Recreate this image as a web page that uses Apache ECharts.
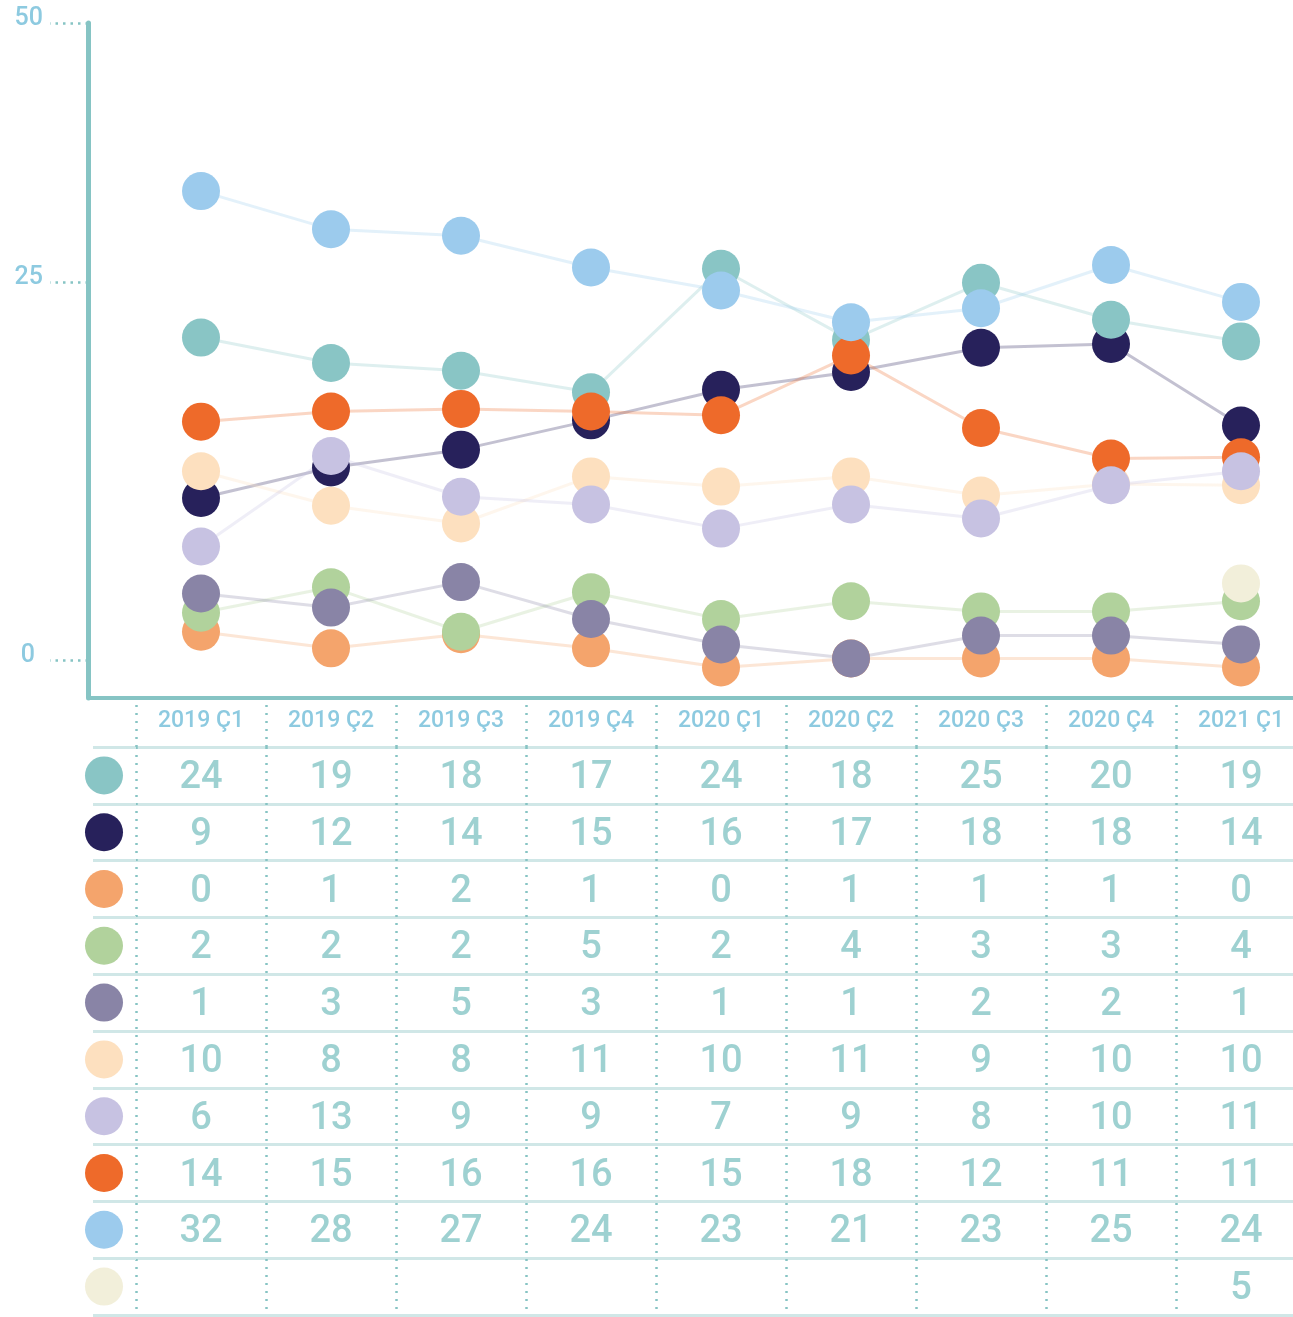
<!DOCTYPE html>
<html><head><meta charset="utf-8">
<script src="https://cdn.jsdelivr.net/npm/echarts@6/dist/echarts.min.js"></script>
<style>html,body{margin:0;padding:0;background:#fff}#c{width:1293px;height:1317px}</style>
</head><body><div id="c"></div>
<script>
// ---- data ----
const categories = ['2019 Ç1','2019 Ç2','2019 Ç3','2019 Ç4','2020 Ç1','2020 Ç2','2020 Ç3','2020 Ç4','2021 Ç1'];

// table values (as printed)
const tableTeal      = [24,19,18,17,24,18,25,20,19];
const tableNavy      = [9,12,14,15,16,17,18,18,14];
const tableSalmon    = [0,1,2,1,0,1,1,1,0];
const tableGreen     = [2,2,2,5,2,4,3,3,4];
const tablePurple    = [1,3,5,3,1,1,2,2,1];
const tablePeach     = [10,8,8,11,10,11,9,10,10];
const tableLavender  = [6,13,9,9,7,9,8,10,11];
const tableOrangeRed = [14,15,16,16,15,18,12,11,11];
const tableLightBlue = [32,28,27,24,23,21,23,25,24];
const tableCream     = [null,null,null,null,null,null,null,null,5];

// plotted values (read from the point positions)
const plotTeal      = [25.3,23.3,22.7,21.0,30.7,25.1,29.6,26.7,25.0];
const plotNavy      = [12.7,15.1,16.5,18.8,21.2,22.6,24.5,24.8,18.4];
const plotSalmon    = [2.2,0.9,2.0,0.9,-0.6,0.1,0.1,0.1,-0.6];
const plotGreen     = [3.7,5.7,2.2,5.3,3.2,4.6,3.8,3.8,4.6];
const plotPurple    = [5.2,4.1,6.1,3.2,1.2,0.1,1.9,1.9,1.2];
const plotPeach     = [14.8,12.1,10.7,14.4,13.6,14.4,12.9,13.8,13.7];
const plotLavender  = [8.9,16.0,12.8,12.2,10.3,12.2,11.1,13.7,14.8];
const plotOrangeRed = [18.7,19.5,19.7,19.5,19.2,23.9,18.2,15.8,15.9];
const plotLightBlue = [36.8,33.8,33.3,30.8,29.0,26.5,27.6,31.0,28.1];
const plotCream     = [null,null,null,null,null,null,null,null,6.0];

// y axis tick labels and where they sit on the axis
const yTickLabels = ['0','25','50'];
const yTickValues = [0, 29.66, 50];

// ---- styles ----
const colors = {
  teal:'#89c5c5', navy:'#27215b', salmon:'#f4a46c', green:'#b1d29c', purple:'#8984a6',
  peach:'#fde0bf', lavender:'#c7c2e2', orangeRed:'#ee6a2a', lightBlue:'#9ccbed', cream:'#f2efda'
};
const rows = [
  {key:'teal', table:tableTeal, plot:plotTeal},
  {key:'navy', table:tableNavy, plot:plotNavy},
  {key:'salmon', table:tableSalmon, plot:plotSalmon},
  {key:'green', table:tableGreen, plot:plotGreen},
  {key:'purple', table:tablePurple, plot:plotPurple},
  {key:'peach', table:tablePeach, plot:plotPeach},
  {key:'lavender', table:tableLavender, plot:plotLavender},
  {key:'orangeRed', table:tableOrangeRed, plot:plotOrangeRed},
  {key:'lightBlue', table:tableLightBlue, plot:plotLightBlue},
  {key:'cream', table:tableCream, plot:plotCream}
];
const drawOrder = ['salmon','green','purple','navy','teal','peach','orangeRed','lavender','lightBlue','cream'];

const AX = '#86c4c4', LBL = '#8dcae0', TXT = '#86c5c5', SEP = '#d0e7e7';
const FONT = 'Roboto';

const byKey = {}; rows.forEach(r => byKey[r.key] = r);
const series = [];
drawOrder.forEach(k => {
  const r = byKey[k];
  if (r.plot.filter(v => v !== null).length > 1) {
    series.push({
      type:'line', xAxisIndex:0, yAxisIndex:0, z:2, silent:true,
      data: r.plot.map(v => v === null ? '-' : v),
      symbol:'none', showSymbol:false,
      lineStyle:{color:colors[k], width:3, opacity:0.28}
    });
  }
});
drawOrder.forEach(k => {
  const r = byKey[k];
  series.push({
    type:'scatter', xAxisIndex:0, yAxisIndex:0, z:3, silent:true,
    data: r.plot.map(v => v === null ? '-' : v),
    symbolSize:38, itemStyle:{color:colors[k], opacity:1}
  });
});
const tableData = [];
rows.forEach((r, ri) => r.table.forEach((v, ci) => { if (v !== null) tableData.push([ci, ri, v]); }));
series.push({
  type:'scatter', xAxisIndex:1, yAxisIndex:2, silent:true, z:4,
  data: tableData, symbolSize:1, itemStyle:{color:'rgba(0,0,0,0)'},
  label:{show:true, position:'inside', offset:[0,3], formatter:p => String(p.value[2]), color:TXT, fontSize:38, fontWeight:500, fontFamily:FONT}
});

const rich = {};
rows.forEach((r, i) => { rich['d' + i] = {width:38, height:38, borderRadius:19, backgroundColor:colors[r.key]}; });

const dotted = {color:AX, width:2.5, type:[2,6]};

const option = {
  animation:false,
  backgroundColor:'#ffffff',
  grid:[
    {left:136, right:-13, top:23, bottom:619, outerBoundsMode:'none', containLabel:false},
    {left:136, right:-13, top:747, bottom:2, outerBoundsMode:'none', containLabel:false}
  ],
  xAxis:[
    {type:'category', gridIndex:0, data:categories, boundaryGap:true,
     axisLine:{show:true, onZero:false, lineStyle:{color:AX, width:4}},
     axisTick:{show:false}, axisLabel:{show:false}, splitLine:{show:false}},
    {type:'category', gridIndex:1, data:categories, position:'top', boundaryGap:true,
     axisLine:{show:false},
     axisTick:{show:true, length:46, lineStyle:dotted},
     axisLabel:{show:true, interval:0, margin:26, verticalAlign:'middle', color:LBL, fontSize:23, fontWeight:500, fontFamily:FONT},
     splitLine:{show:true, lineStyle:dotted}}
  ],
  yAxis:[
    {type:'value', gridIndex:0, min:-3, max:50, offset:48, position:'left',
     axisLine:{show:true, onZero:false, lineStyle:{color:AX, width:5}},
     axisTick:{show:true, customValues:yTickValues, length:38, lineStyle:{color:AX, width:2.5, type:[2.5,5]}},
     axisLabel:{show:true, customValues:yTickValues, margin:45, color:LBL, fontSize:25, fontWeight:500, fontFamily:FONT,
       padding:[0,0,9,0],
       formatter:(v) => {
         let best = 0;
         yTickValues.forEach((t, i) => { if (Math.abs(t - v) < Math.abs(yTickValues[best] - v)) best = i; });
         return best === 0 ? '{z|' + yTickLabels[best] + '}' : yTickLabels[best];
       },
       rich:{z:{color:LBL, fontSize:25, fontWeight:500, fontFamily:FONT, padding:[0,8,0,0]}}},
     splitLine:{show:false}},
    {type:'value', gridIndex:0, min:-3, max:50, offset:48, position:'left',
     axisLine:{show:false},
     axisTick:{show:true, inside:true, customValues:[-3], length:50, lineStyle:{color:AX, width:4}},
     axisLabel:{show:false}, splitLine:{show:false}},
    {type:'category', gridIndex:1, data:rows.map(r => r.key), inverse:true, boundaryGap:true,
     axisLine:{show:false},
     axisTick:{show:true, length:43, lineStyle:{color:SEP, width:3}},
     axisLabel:{show:true, interval:0, margin:13, formatter:(v, i) => '{d' + i + '| }', rich:rich},
     splitLine:{show:true, lineStyle:{color:SEP, width:3}}}
  ],
  series: series
};
echarts.init(document.getElementById('c'), null, {renderer:'canvas'}).setOption(option);
</script></body></html>
